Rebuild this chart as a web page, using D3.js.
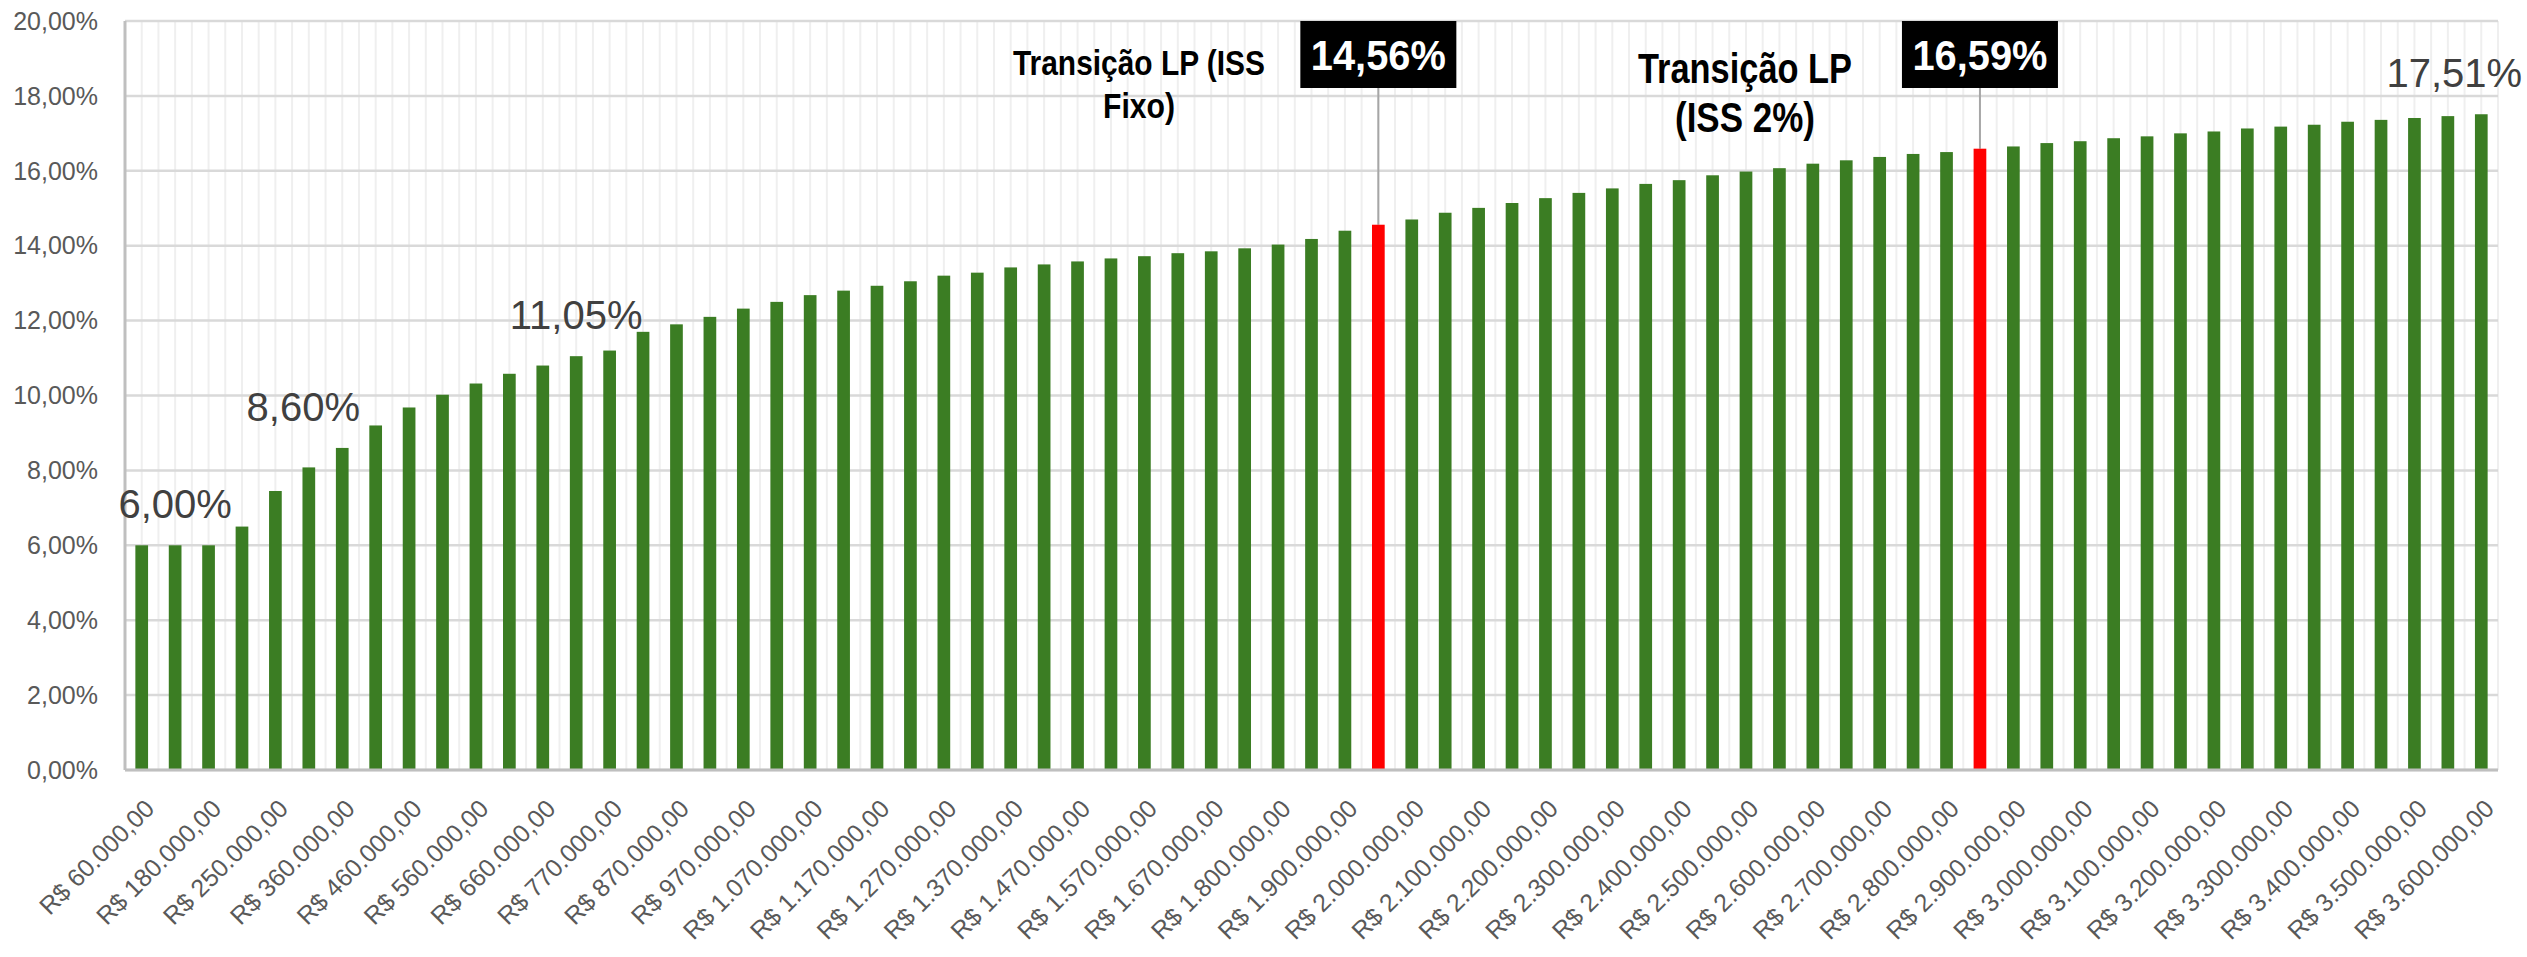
<!DOCTYPE html>
<meta charset="utf-8">
<style>
body { margin: 0; background: #fff; }
.tick-y, .tick-x { font-family: "Liberation Sans", Arial, sans-serif; font-size: 25px; fill: #595959; }
.lbl { font-family: "Liberation Sans", Arial, sans-serif; font-size: 40px; fill: #404040; }
.cond { font-family: "Liberation Sans", Arial, sans-serif; font-weight: bold; }
</style>
<body>
<script src="https://d3js.org/d3.v7.min.js"></script>
<script>

const width = 2527;
const height = 957;
const margin = {top: 21, right: 29, bottom: 187, left: 125};
const innerWidth = width - margin.left - margin.right;
const innerHeight = height - margin.top - margin.bottom;

// faturamento anual (R$)
const faturamento = [
  60000, 120000, 180000, 210000, 250000, 300000, 360000, 410000, 460000, 510000,
  560000, 610000, 660000, 720000, 770000, 820000, 870000, 920000, 970000, 1020000,
  1070000, 1120000, 1170000, 1220000, 1270000, 1320000, 1370000, 1420000, 1470000, 1520000,
  1570000, 1620000, 1670000, 1720000, 1800000, 1850000, 1900000, 1950000, 2000000, 2050000,
  2100000, 2150000, 2200000, 2250000, 2300000, 2350000, 2400000, 2450000, 2500000, 2550000,
  2600000, 2650000, 2700000, 2750000, 2800000, 2850000, 2900000, 2950000, 3000000, 3050000,
  3100000, 3150000, 3200000, 3250000, 3300000, 3350000, 3400000, 3450000, 3500000, 3550000,
  3600000
];

// aliquota efetiva (%)
const aliquota = [
  6.00, 6.00, 6.00, 6.50, 7.45, 8.08, 8.60, 9.20, 9.68, 10.02,
  10.32, 10.58, 10.80, 11.05, 11.20, 11.70, 11.90, 12.10, 12.32, 12.50,
  12.68, 12.80, 12.93, 13.05, 13.20, 13.28, 13.42, 13.50, 13.58, 13.66,
  13.72, 13.80, 13.85, 13.93, 14.03, 14.18, 14.40, 14.56, 14.70, 14.88,
  15.01, 15.14, 15.27, 15.41, 15.53, 15.65, 15.75, 15.88, 15.98, 16.07,
  16.19, 16.28, 16.37, 16.45, 16.50, 16.59, 16.65, 16.74, 16.79, 16.87,
  16.92, 17.00, 17.05, 17.13, 17.18, 17.23, 17.31, 17.36, 17.41, 17.46,
  17.51
];

const yTicks = [0, 2, 4, 6, 8, 10, 12, 14, 16, 18, 20];

// barras de transicao (em vermelho)
const transicoes = [1950000, 2850000];

// rotulos de dados simples
const rotulos = [
  {cat: 120000, text: "6,00%"},
  {cat: 360000, text: "8,60%"},
  {cat: 720000, text: "11,05%"},
  {cat: 3600000, text: "17,51%"}
];

// rotulos destacados (caixa preta)
const destaques = [
  {cat: 1950000, text: "14,56%"},
  {cat: 2850000, text: "16,59%"}
];

const notas = [
  ["Transição LP (ISS", "Fixo)"],
  ["Transição LP", "(ISS 2%)"]
];

// ajustes de posicao dos textos (arrastados no grafico original)
const rotuloDx = [0, -39, 0, -27];
const notaLayout = [
  {x: 1139, y: 75, size: 35, gap: 43, lens: [252, 72]},
  {x: 1745, y: 83, size: 42, gap: 49, lens: [214, 140]}
];

const locale = d3.formatLocale({decimal: ",", thousands: ".", grouping: [3], currency: ["R$ ", ""]});
const fmtReal = locale.format("$,.2f");
const fmtPct = d => locale.format(",.2f")(d) + "%";

const x = d3.scaleBand()
    .domain(faturamento)
    .range([0, innerWidth])
    .paddingInner(0.62)
    .paddingOuter(0.31);

const y = d3.scaleLinear()
    .domain([0, 20])
    .range([innerHeight, 0]);

const valor = cat => aliquota[faturamento.indexOf(cat)];
const centro = cat => x(cat) + x.bandwidth() / 2;

const root = d3.select("body").append("svg")
    .attr("width", width)
    .attr("height", height);

const svg = root.append("g")
    .attr("transform", `translate(${margin.left},${margin.top})`);

// grade vertical (limites e centros das categorias)
const step = x.step();
const vlines = [];
faturamento.forEach((d, i) => {
  vlines.push(i * step);
  vlines.push(i * step + step / 2);
});
vlines.push(innerWidth);

svg.append("g").selectAll("line")
    .data(vlines)
  .enter().append("line")
    .attr("x1", d => d).attr("x2", d => d)
    .attr("y1", 0).attr("y2", innerHeight)
    .attr("stroke", "#efefef")
    .attr("stroke-width", 2);

svg.append("g").selectAll("line")
    .data(yTicks)
  .enter().append("line")
    .attr("x1", 0).attr("x2", innerWidth)
    .attr("y1", d => y(d)).attr("y2", d => y(d))
    .attr("stroke", "#d9d9d9")
    .attr("stroke-width", 2.5);

// eixo Y
svg.append("g").selectAll("text")
    .data(yTicks)
  .enter().append("text")
    .attr("class", "tick-y")
    .attr("x", -27)
    .attr("y", d => y(d))
    .attr("dy", "0.35em")
    .attr("text-anchor", "end")
    .text(fmtPct);

svg.append("line")
    .attr("x1", 0).attr("x2", 0)
    .attr("y1", 0).attr("y2", innerHeight)
    .attr("stroke", "#bfbfbf").attr("stroke-width", 3);

// linhas de chamada dos destaques
svg.append("g").selectAll("line")
    .data(destaques)
  .enter().append("line")
    .attr("x1", d => centro(d.cat)).attr("x2", d => centro(d.cat))
    .attr("y1", 60)
    .attr("y2", d => y(valor(d.cat)))
    .attr("stroke", "#a6a6a6")
    .attr("stroke-width", 2);

// barras
svg.append("g").selectAll("rect")
    .data(faturamento)
  .enter().append("rect")
    .attr("x", d => x(d))
    .attr("width", x.bandwidth())
    .attr("y", (d, i) => y(aliquota[i]))
    .attr("height", (d, i) => innerHeight - y(aliquota[i]))
    .attr("fill", d => transicoes.includes(d) ? "#ff0000" : "#3b7d23");

svg.append("line")
    .attr("x1", 0).attr("x2", innerWidth)
    .attr("y1", innerHeight).attr("y2", innerHeight)
    .attr("stroke", "#bfbfbf").attr("stroke-width", 3);

// eixo X, um rotulo a cada duas categorias
svg.append("g").selectAll("text")
    .data(faturamento.filter((d, i) => i % 2 === 0))
  .enter().append("text")
    .attr("class", "tick-x")
    .attr("text-anchor", "end")
    .attr("dy", "0.35em")
    .attr("transform", d => `translate(${centro(d) + 8},${innerHeight + 34}) rotate(-45)`)
    .text(fmtReal);

// rotulos de dados
svg.append("g").selectAll("text")
    .data(rotulos)
  .enter().append("text")
    .attr("class", "lbl")
    .attr("text-anchor", "middle")
    .attr("x", (d, i) => centro(d.cat) + rotuloDx[i])
    .attr("y", d => y(valor(d.cat)) - 27)
    .text(d => d.text);

// destaques em caixa preta
const boxW = 156, boxH = 67;
const dest = svg.append("g").selectAll("g")
    .data(destaques)
  .enter().append("g")
    .attr("transform", d => `translate(${centro(d.cat)},0)`);

dest.append("rect")
    .attr("x", -boxW / 2)
    .attr("y", 0)
    .attr("width", boxW)
    .attr("height", boxH)
    .attr("fill", "#000");

dest.append("text")
    .attr("class", "cond")
    .attr("text-anchor", "middle")
    .attr("y", 49)
    .attr("fill", "#fff")
    .attr("font-size", 42)
    .attr("textLength", 135)
    .attr("lengthAdjust", "spacingAndGlyphs")
    .text(d => d.text);

// notas de transicao
const nota = root.append("g").selectAll("g")
    .data(notas)
  .enter().append("g");

nota.selectAll("text")
    .data((d, i) => d.map((t, j) => ({t, l: notaLayout[i], j})))
  .enter().append("text")
    .attr("class", "cond")
    .attr("text-anchor", "middle")
    .attr("fill", "#000")
    .attr("font-size", d => d.l.size)
    .attr("x", d => d.l.x)
    .attr("y", d => d.l.y + d.j * d.l.gap)
    .attr("textLength", d => d.l.lens[d.j])
    .attr("lengthAdjust", "spacingAndGlyphs")
    .text(d => d.t);

</script>
